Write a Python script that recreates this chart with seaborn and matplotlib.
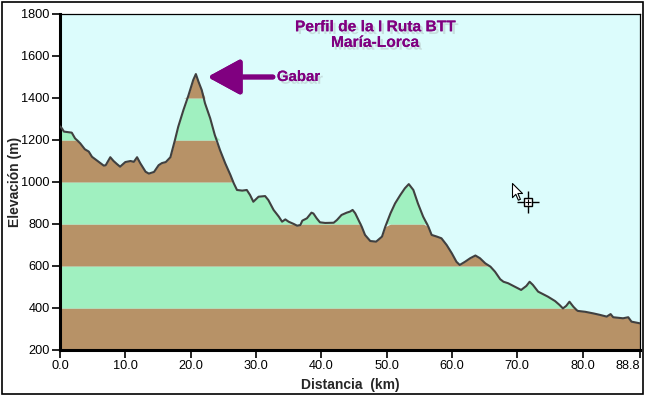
import numpy as np
import pandas as pd
import matplotlib
matplotlib.use("Agg")
import matplotlib.pyplot as plt
import matplotlib.patheffects as pe
from matplotlib.patches import Rectangle
from matplotlib.path import Path
import seaborn as sns

# ---- data ----
dist_km = [0.0, 0.3, 0.6, 1.8, 2.3, 3.1, 3.8, 4.4, 4.9, 5.9, 6.7, 7.0, 7.7, 8.2, 8.7, 9.2,
           10.0, 10.8, 11.3, 11.8, 12.3, 13.1, 13.6, 14.4, 15.1, 15.6, 16.2, 16.9, 17.6,
           18.1, 18.9, 19.6, 20.4, 20.8, 21.2, 21.7, 22.2, 23.0, 23.7, 24.5, 25.3, 26.1,
           26.6, 27.1, 27.9, 28.6, 29.1, 29.6, 30.4, 31.4, 31.9, 32.7, 33.5, 34.0, 34.5,
           35.0, 35.8, 36.3, 36.8, 37.1, 37.8, 38.5, 38.8, 39.3, 39.8, 40.6, 41.9, 42.4,
           43.1, 43.9, 44.4, 44.8, 45.2, 45.7, 46.2, 46.7, 47.5, 48.4, 49.3, 49.8, 50.6,
           51.3, 52.1, 52.8, 53.4, 54.1, 54.8, 55.6, 56.4, 56.9, 57.7, 58.4, 59.2, 60.0,
           60.7, 61.2, 62.0, 62.8, 63.6, 64.3, 65.1, 65.9, 66.6, 67.4, 67.9, 68.6, 69.6,
           70.6, 71.4, 71.9, 72.4, 73.2, 74.0, 74.7, 75.8, 76.5, 77.0, 77.5, 78.0, 78.6,
           79.1, 79.3, 80.4, 81.7, 82.7, 83.7, 84.3, 84.7, 86.2, 87.0, 87.5, 88.8]
elev_m = [1265, 1255, 1240, 1235, 1208, 1184, 1156, 1145, 1120, 1097, 1078, 1080, 1118, 1100,
          1086, 1073, 1095, 1100, 1096, 1118, 1089, 1049, 1040, 1048, 1080, 1090, 1095, 1118,
          1200, 1263, 1343, 1406, 1486, 1514, 1478, 1438, 1375, 1303, 1224, 1152, 1089, 1033,
          994, 962, 959, 962, 938, 906, 930, 933, 914, 867, 835, 811, 822, 811, 800, 792, 795,
          816, 827, 854, 850, 827, 808, 805, 806, 819, 843, 854, 859, 867, 851, 819, 787, 748,
          719, 716, 740, 787, 851, 898, 938, 970, 990, 962, 898, 835, 787, 748, 740, 732, 700,
          660, 620, 605, 620, 637, 650, 637, 613, 597, 573, 537, 525, 518, 502, 486, 505, 525,
          510, 478, 465, 454, 433, 414, 398, 410, 430, 406, 390, 386, 382, 374, 367, 359, 371,
          356, 351, 356, 335, 327]

x_ticks = [0.0, 10.0, 20.0, 30.0, 40.0, 50.0, 60.0, 70.0, 80.0, 88.8]
x_tick_labels = ["0.0", "10.0", "20.0", "30.0", "40.0", "50.0", "60.0", "70.0", "80.0", "88.8"]
y_ticks = [200, 400, 600, 800, 1000, 1200, 1400, 1600, 1800]
band_edges = [200, 400, 600, 800, 1000, 1200, 1400, 1600]

title_text = "Perfil de la I Ruta BTT\nMaría-Lorca"
peak_label = "Gabar"
peak_arrow_tip = (22.6, 1500)
peak_arrow_tail = (32.6, 1500)
peak_text_pos = (33.2, 1500)
cursor_pos = (71.6, 905)
pointer_pos = (69.2, 995)

df = pd.DataFrame({"Distancia": dist_km, "Elevación": elev_m})

# ---- style ----
sns.set_style("white")
plt.rcParams["font.family"] = ["Liberation Sans", "DejaVu Sans"]

BG = "#DCFCFC"
BROWN = "#B79267"
GREEN = "#A0F0C0"
LINE = "#404040"
PURPLE = "#800080"

fig = plt.figure(figsize=(6.45, 3.96), dpi=100)
fig.patch.set_facecolor("white")
ax = fig.add_axes([60 / 645, 1 - 350 / 396, 580 / 645, 336 / 396])
ax.set_facecolor(BG)

x = np.asarray(df["Distancia"], dtype=float)
y = np.asarray(df["Elevación"], dtype=float)
for i, lo in enumerate(band_edges[:-1]):
    hi = band_edges[i + 1]
    col = BROWN if i % 2 == 0 else GREEN
    ax.fill_between(x, lo, np.clip(y, lo, hi), color=col, linewidth=0, zorder=1)

sns.lineplot(data=df, x="Distancia", y="Elevación", ax=ax, color=LINE, linewidth=1.5,
             zorder=3, estimator=None, sort=False)

ax.set_xlim(0, 88.8)
ax.set_ylim(200, 1800)
ax.set_xticks(x_ticks)
ax.set_xticklabels(x_tick_labels)
ax.set_yticks(y_ticks)
ax.set_yticklabels([str(v) for v in y_ticks])
ax.tick_params(axis="both", direction="out", length=6, width=1.2, colors="black",
               labelsize=9.2, pad=1.5, left=True, bottom=True)
last = ax.get_xticklabels()[-1]
last.set_horizontalalignment("right")
last.set_x(88.8)
for s in ["left", "bottom"]:
    ax.spines[s].set_linewidth(2.2)
    ax.spines[s].set_color("black")
for s in ["top", "right"]:
    ax.spines[s].set_linewidth(0.9)
    ax.spines[s].set_color("black")

ax.set_xlabel("Distancia  (km)", fontsize=10, fontweight="bold", labelpad=4)
ax.set_ylabel("Elevación (m)", fontsize=10, fontweight="bold", labelpad=-1)

shadow = [pe.withSimplePatchShadow(offset=(2, -2), shadow_rgbFace="#999999", alpha=0.3), pe.Normal()]

ax.text(48.2, 1775, title_text, ha="center", va="top", fontsize=11.2, fontweight="bold",
        color=PURPLE, linespacing=1.05, path_effects=shadow, zorder=5)

ax.annotate("", xy=peak_arrow_tip, xytext=peak_arrow_tail,
            arrowprops=dict(arrowstyle="-|>,head_length=1.1,head_width=0.6", color=PURPLE,
                            lw=3.5, mutation_scale=18, shrinkA=0, shrinkB=0,
                            path_effects=shadow), zorder=5)
ax.text(peak_text_pos[0], peak_text_pos[1], peak_label, ha="left", va="center", fontsize=10.8,
        fontweight="bold", color=PURPLE, path_effects=shadow, zorder=5)

# mouse pointer and cursor crosshair
pointer = Path([(0, 0), (0, -17), (4, -13), (7, -20), (9.5, -19), (6.5, -12), (12, -12), (0, 0)],
               [Path.MOVETO] + [Path.LINETO] * 6 + [Path.CLOSEPOLY])
ax.plot([pointer_pos[0]], [pointer_pos[1]], marker=pointer, markersize=24, mfc="white",
        mec="black", mew=0.8, zorder=6)
ax.plot([cursor_pos[0]], [cursor_pos[1]], marker="+", markersize=16, color="black",
        mew=1.0, zorder=6)
ax.plot([cursor_pos[0]], [cursor_pos[1]], marker="s", markersize=6, mfc="white",
        mec="black", mew=1.0, zorder=7)
ax.plot([cursor_pos[0]], [cursor_pos[1]], marker="+", markersize=5, color="black",
        mew=0.8, zorder=8)

# outer frame
fig.patches.append(Rectangle((2 / 645, 2 / 396), 641 / 645, 392 / 396, transform=fig.transFigure,
                             fill=False, edgecolor="black", linewidth=1.2))

fig.savefig("out.png", dpi=100, facecolor="white")
